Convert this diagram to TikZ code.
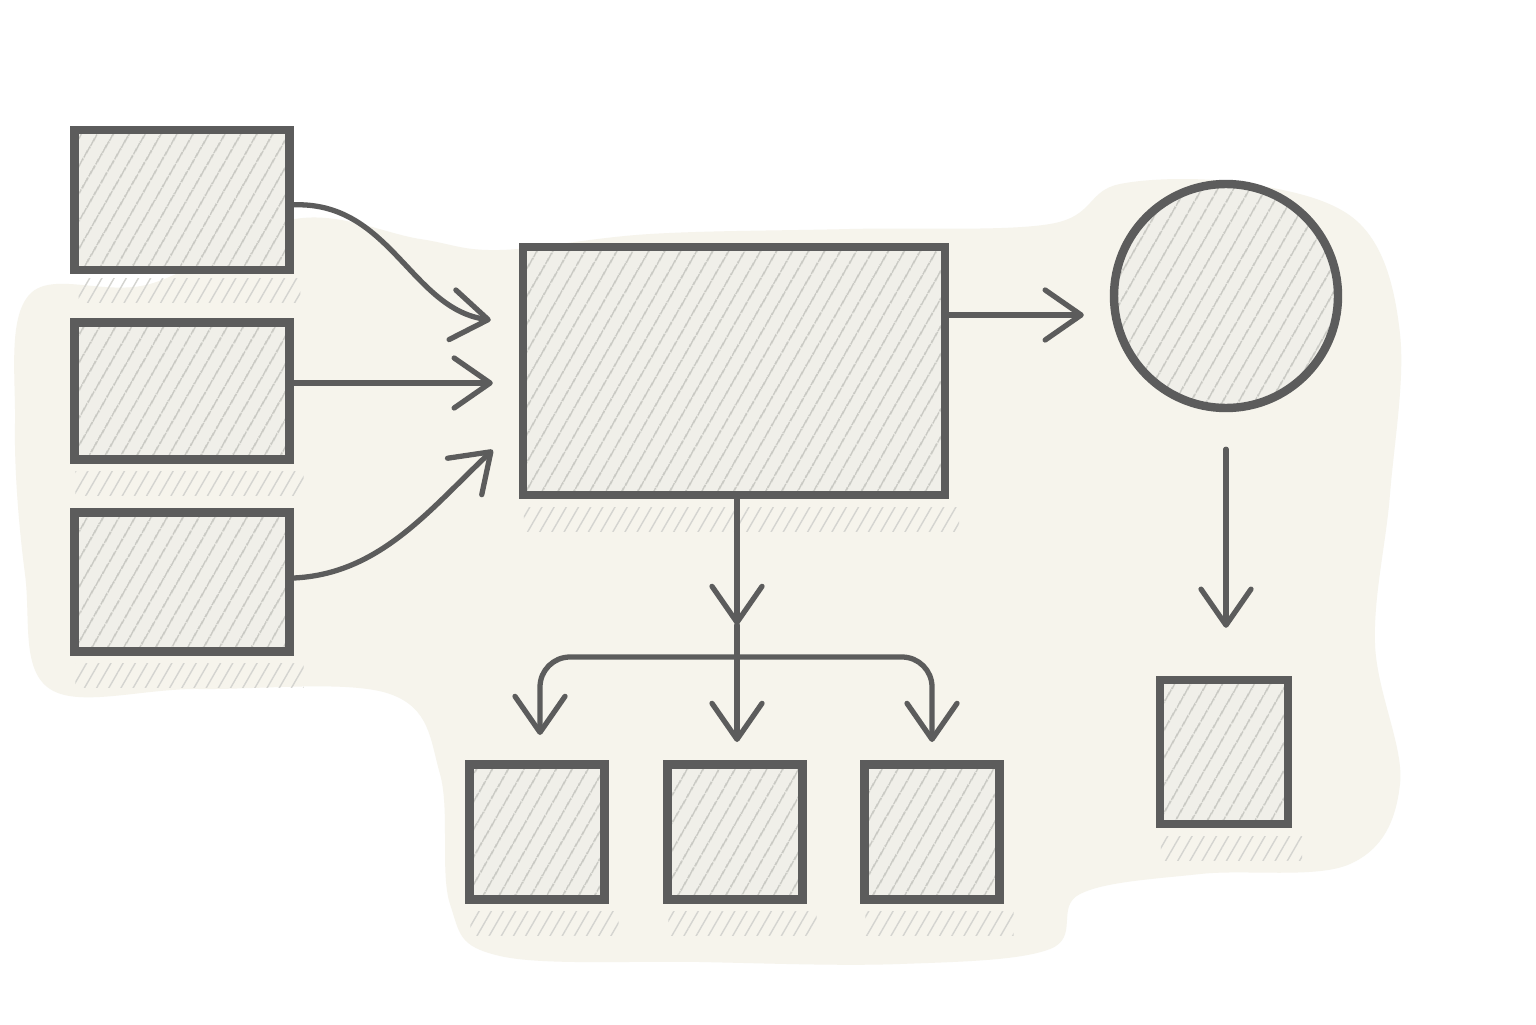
\documentclass[tikz,border=0pt]{standalone}
\usepackage{xcolor}
\usepackage{tikz}
\usetikzlibrary{positioning, arrows.meta, calc, patterns.meta}

\definecolor{pencil}{RGB}{92,92,92}
\definecolor{hatch}{RGB}{198,198,192}
\definecolor{boxfill}{RGB}{240,239,233}
\definecolor{paper}{RGB}{246,244,236}

\tikzset{
    sketchbox/.style={draw=pencil, line width=2.4pt, inner sep=0pt,
        preaction={fill=boxfill},
        pattern={Lines[angle=60, distance=4pt, line width=0.5pt]}, pattern color=hatch},
    conn/.style={draw=pencil, line width=1.5pt, line cap=round,
        -{Straight Barb[length=0.36cm, width=0.5cm, round]}},
    undershade/.style={pattern={Lines[angle=60, distance=3pt, line width=0.4pt]},
        pattern color=hatch!75}
}

\begin{document}
\begin{tikzpicture}
        \useasboundingbox (0,0) rectangle (15.36,10.24);
        \fill[white] (0,0) rectangle (15.36,10.24);

        % paper wash behind the sketch
        \fill[paper] plot[smooth cycle, tension=0.6] coordinates {
            (0.3,7.3) (1.5,7.4) (2.95,8.05) (4.2,7.85) (5.0,7.74) (6.5,7.9)
            (8.5,7.95) (10.5,8.0) (11.2,8.4) (12.5,8.4) (13.6,8.0) (14.0,6.9)
            (13.9,5.3) (13.75,3.8) (14.0,2.4) (13.5,1.6) (12.0,1.5) (10.8,1.3)
            (10.5,0.75) (9.0,0.6) (7.0,0.62) (5.0,0.68) (4.5,1.2) (4.4,2.5)
            (3.9,3.3) (2.0,3.35) (0.5,3.35) (0.25,4.5) (0.15,6.0)};

        % inputs
        \node[sketchbox, minimum width=2.15cm, minimum height=1.40cm] (in1) at (1.82,8.24) {};
        \node[sketchbox, minimum width=2.15cm, minimum height=1.37cm] (in2) at (1.82,6.33) {};
        \node[sketchbox, minimum width=2.15cm, minimum height=1.39cm] (in3) at (1.82,4.42) {};

        % hub and the round node
        \node[sketchbox, minimum width=4.22cm, minimum height=2.48cm] (hub) at (7.34,6.53) {};
        \node[sketchbox, circle, minimum size=2.24cm] (circ) at (12.26,7.28) {};

        % outputs
        \node[sketchbox, minimum width=1.28cm, minimum height=1.44cm] (out) at (12.24,2.72) {};
        \foreach \n/\x in {sub1/5.37, sub2/7.35, sub3/9.32}
            \node[sketchbox, minimum width=1.35cm, minimum height=1.35cm] (\n) at (\x,1.92) {};

        % pencil shading under the boxes
        \foreach \n in {in1,in2,in3,hub,out,sub1,sub2,sub3}
            \path[undershade] ($(\n.south west)+(0.05,-0.08)$) rectangle ($(\n.south east)+(0.1,-0.32)$);

        % tips
        \coordinate (t1) at ($(hub.west)+(-0.28,0.51)$);
        \coordinate (t2) at ($(hub.west)+(-0.26,-0.12)$);
        \coordinate (t3) at ($(hub.west)+(-0.26,-0.79)$);
        \coordinate (t4) at ($(circ.west)+(-0.26,-0.19)$);
        \coordinate (c1) at ($(circ.south)+(0,-0.37)$);
        \coordinate (t8) at (c1 |- {$(out.north)+(0,0.48)$});
        \coordinate (m1) at (7.37,3.99);
        \coordinate (br) at (7.37,3.67);
        \coordinate (t5) at (5.40,2.89);
        \coordinate (t6) at (7.37,2.82);
        \coordinate (t7) at (9.32,2.82);

        % arrows into the hub
        \draw[conn] ($(in1.east)+(0,-0.05)$) .. controls (3.9,8.25) and (4.1,7.15) .. (t1);
        \draw[conn] (in2.east |- t2) -- (t2);
        \draw[conn] ($(in3.east)+(0,0.04)$) .. controls (3.8,4.5) and (4.3,5.15) .. (t3);

        % arrows out of the hub
        \draw[conn] (hub.east |- t4) -- (t4);
        \draw[conn] (c1) -- (t8);
        \draw[conn] (hub.south -| m1) -- (m1);
        \draw[conn] (m1) -- (t6);
        \draw[conn, rounded corners=0.3cm] (br) -| (t5);
        \draw[conn, rounded corners=0.3cm] (br) -| (t7);
    \end{tikzpicture}
\end{document}
